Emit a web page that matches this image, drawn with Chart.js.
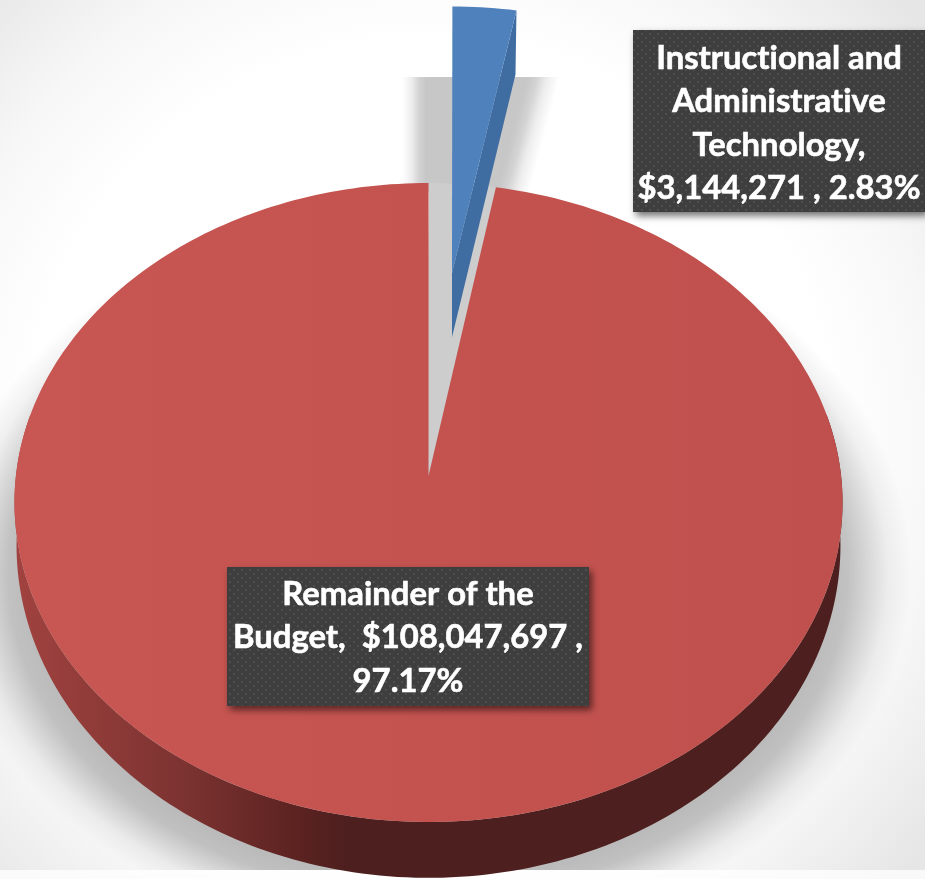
<!DOCTYPE html>
<html>
<head>
<meta charset="utf-8">
<title>Instructional and Administrative Technology share of the budget</title>
<script src="https://cdn.jsdelivr.net/npm/chart.js@4"></script>
<style>
  body { margin: 0; background: #fff; }
  canvas { display: block; }
</style>
</head>
<body>
<canvas id="chart" width="925" height="879"></canvas>
<script>
const categories = ['Instructional and Administrative Technology', 'Remainder of the Budget'];
const budgetValues = [3144271, 108047697];
const sliceColors = ['#4f81bd', '#c0504d'];
const sliceOffsets = [271, 0];   // px, with a radius of 400 (the blue slice is pulled out)
const labelLines = [
    ['Instructional and', 'Administrative', 'Technology,', '$3,144,271 , 2.83%'],
    ['Remainder of the', 'Budget,  $108,047,697 ,', '97.17%']
];

// perspective of the disc: u,v are in units of the radius, v goes towards the viewer
const cam = {cx: 428.5, y0: 476, ax: 412.6, ay: 317.3, k: -0.083};
function project(u, v) {
    const w = 1 + cam.k * v;
    return [cam.cx + cam.ax * u / w, cam.y0 + cam.ay * v / w];
}
// bottom rim of the disc
function lower(p) {
    return [cam.cx + (p[0] - cam.cx) * 0.995, 545 + (p[1] - 502) * 1.04];
}
function rim(a, ou, ov) {
    return project(ou + Math.cos(a), ov + Math.sin(a));
}
function polygon(ctx, pts) {
    ctx.beginPath();
    pts.forEach((p, i) => i ? ctx.lineTo(p[0], p[1]) : ctx.moveTo(p[0], p[1]));
    ctx.closePath();
}
function slicePoints(el) {
    const mid = (el.startAngle + el.endAngle) / 2;
    const off = el.options.offset / el.outerRadius;
    const ou = Math.cos(mid) * off, ov = Math.sin(mid) * off;
    const pts = [project(ou, ov)];
    const n = Math.ceil((el.endAngle - el.startAngle) / 0.02);
    for (let i = 0; i <= n; i++) {
        pts.push(rim(el.startAngle + (el.endAngle - el.startAngle) * i / n, ou, ov));
    }
    return pts;
}
function fade(ctx, x0, y0, x1, y1) {
    const g = ctx.createLinearGradient(x0, y0, x1, y1);
    g.addColorStop(0, 'rgba(0,0,0,0.22)');
    g.addColorStop(0.3, 'rgba(0,0,0,0.17)');
    g.addColorStop(0.6, 'rgba(0,0,0,0.07)');
    g.addColorStop(1, 'rgba(0,0,0,0)');
    return g;
}

const pie3d = {
    id: 'pie3d',
    beforeDraw(chart) {
        const ctx = chart.ctx;
        const bg = ctx.createRadialGradient(430, 440, 400, 430, 440, 640);
        bg.addColorStop(0, '#ffffff');
        bg.addColorStop(0.45, '#f7f7f7');
        bg.addColorStop(1, '#e6e6e6');
        ctx.fillStyle = bg;
        ctx.fillRect(0, 0, 925, 879);
    },
    beforeDatasetDraw(chart, args) {
        const ctx = chart.ctx;
        const arcs = args.meta.data;
        // the far end of the pulled out slice reaches a bit further than the disc perspective gives
        const wedge = slicePoints(arcs[0]).map(p => [p[0] + (273 - p[1]) * 0.008, p[1] - (273 - p[1]) * 0.011]);
        const red = slicePoints(arcs[1]);
        const last = wedge[wedge.length - 1];

        // soft shadows, cut off where the picture's shadow box ends
        ctx.save();
        ctx.beginPath();
        ctx.rect(0, 77, 925, 793);
        ctx.clip();
        ctx.save();
        ctx.translate(428, 572);
        ctx.scale(1, 0.77);
        const halo = ctx.createRadialGradient(0, 0, 0, 0, 0, 484);
        halo.addColorStop(0, 'rgba(0,0,0,0.26)');
        halo.addColorStop(400 / 484, 'rgba(0,0,0,0.26)');
        halo.addColorStop(420 / 484, 'rgba(0,0,0,0.23)');
        halo.addColorStop(440 / 484, 'rgba(0,0,0,0.14)');
        halo.addColorStop(460 / 484, 'rgba(0,0,0,0.05)');
        halo.addColorStop(1, 'rgba(0,0,0,0)');
        ctx.fillStyle = halo;
        ctx.beginPath();
        ctx.arc(0, 0, 484, 0, Math.PI * 2);
        ctx.fill();
        ctx.restore();
        // shadow of the blue slice, on both of its sides
        ctx.fillStyle = fade(ctx, 426, 0, 402, 0);
        ctx.fillRect(402, 77, 24, 115);
        ctx.fillStyle = 'rgba(0,0,0,0.22)';
        ctx.fillRect(426, 77, 36, 115);
        ctx.fillStyle = fade(ctx, 528, 77, 558, 85);
        polygon(ctx, [[528, 77], [575, 77], [545, 192], [497, 192]]);
        ctx.fill();
        ctx.fillStyle = 'rgba(0,0,0,0.22)';
        polygon(ctx, [[480, 77], [528, 77], [497, 192], [480, 192]]);
        ctx.fill();
        ctx.restore();

        ctx.fillStyle = 'rgba(255,255,255,0.75)';
        ctx.fillRect(0, 870, 925, 9);

        // gap left by the pulled out slice
        const gap = [project(0, 0)];
        for (let a = arcs[0].startAngle; a <= arcs[0].endAngle + 0.01; a += 0.01) gap.push(rim(a, 0, 0));
        ctx.fillStyle = '#cdcdcd';
        polygon(ctx, gap);
        ctx.fill();

        // front wall of the red slice
        const wall = ctx.createLinearGradient(20, 0, 345, 0);
        wall.addColorStop(0, '#a0423f');
        wall.addColorStop(0.5, '#7c3331');
        wall.addColorStop(0.85, '#5c2321');
        wall.addColorStop(1, '#4d1f1e');
        const band = [], top = [];
        for (let a = -0.2; a <= Math.PI + 0.2; a += 0.02) {
            const p = rim(a, 0, 0);
            band.push(lower(p));
            top.unshift(p);
        }
        ctx.fillStyle = wall;
        polygon(ctx, band.concat(top));
        ctx.fill();

        // red top face
        const face = ctx.createLinearGradient(14, 0, 842, 0);
        face.addColorStop(0, '#c85652');
        face.addColorStop(1, arcs[1].options.backgroundColor);
        ctx.fillStyle = face;
        polygon(ctx, red);
        ctx.fill();

        // blue slice: wall first, then the face
        const drop = 64;
        ctx.fillStyle = '#3f6ca1';
        polygon(ctx, [wedge[0], [wedge[0][0], wedge[0][1] + drop], [last[0] - 1, last[1] + drop], last]);
        ctx.fill();
        ctx.fillStyle = arcs[0].options.backgroundColor;
        polygon(ctx, wedge);
        ctx.fill();
        return false;
    },
    afterDraw(chart) {
        const ctx = chart.ctx;
        const tile = document.createElement('canvas');
        tile.width = tile.height = 8;
        const t = tile.getContext('2d');
        t.fillStyle = '#3e3e3e';
        t.fillRect(0, 0, 8, 8);
        t.fillStyle = '#4e4e4e';
        t.fillRect(1, 1, 2, 2);
        t.fillRect(5, 5, 2, 2);
        const boxes = [
            {x: 633, y: 30, w: 292, h: 182, cx: 779, first: 58},
            {x: 227, y: 567, w: 362, h: 139, cx: 408, first: 594}
        ];
        boxes.forEach((b, i) => {
            ctx.save();
            ctx.shadowColor = 'rgba(0,0,0,0.55)';
            ctx.shadowBlur = 7;
            ctx.shadowOffsetX = 3;
            ctx.shadowOffsetY = 4;
            ctx.fillStyle = '#3e3e3e';
            ctx.fillRect(b.x, b.y, b.w, b.h);
            ctx.restore();
            ctx.fillStyle = ctx.createPattern(tile, 'repeat');
            ctx.fillRect(b.x, b.y, b.w, b.h);
            ctx.fillStyle = '#fff';
            ctx.strokeStyle = '#fff';
            ctx.lineWidth = 0.6;
            ctx.font = 'bold 32.8px Lato';
            ctx.letterSpacing = '0.01px';   // no "ti" ligature
            ctx.textAlign = 'center';
            ctx.textBaseline = 'middle';
            labelLines[i].forEach((line, j) => {
                ctx.fillText(line, b.cx, b.first + j * 43.6);
                ctx.strokeText(line, b.cx, b.first + j * 43.6);
            });
        });
    }
};

const config = {
    type: 'pie',
    data: {
        labels: categories,
        datasets: [{
            data: budgetValues,
            backgroundColor: sliceColors,
            offset: sliceOffsets,
            borderWidth: 0
        }]
    },
    options: {
        responsive: false,
        animation: false,
        events: [],
        radius: 400,
        rotation: 0,
        plugins: {legend: {display: false}, tooltip: {enabled: false}}
    },
    plugins: [pie3d]
};
var myChart = new Chart(document.getElementById('chart'), config);
</script>
</body>
</html>
